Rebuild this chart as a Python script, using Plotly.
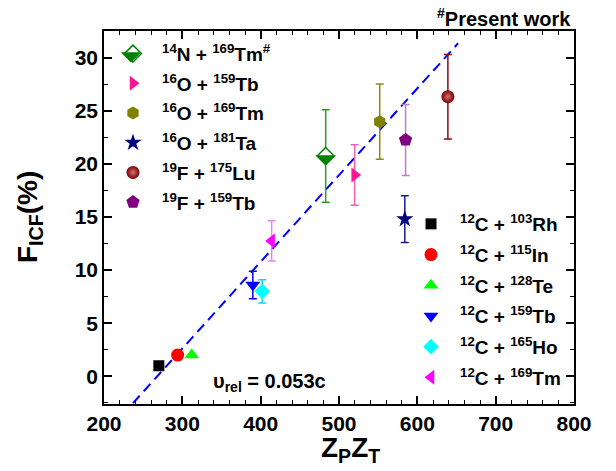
import plotly.graph_objects as go

# ---------------------------------------------------------------
# Incomplete-fusion fraction F_ICF (%) versus Coulomb factor Zp*Zt
# ---------------------------------------------------------------

# Heavier projectiles (left legend)
heavy_labels = [
    "<sup>14</sup>N + <sup>169</sup>Tm<sup>#</sup>",
    "<sup>16</sup>O + <sup>159</sup>Tb",
    "<sup>16</sup>O + <sup>169</sup>Tm",
    "<sup>16</sup>O + <sup>181</sup>Ta",
    "<sup>19</sup>F + <sup>175</sup>Lu",
    "<sup>19</sup>F + <sup>159</sup>Tb",
]
heavy_zpzt = [483, 520, 552, 584, 639, 585]
heavy_ficf = [20.74, 18.95, 23.97, 14.8, 26.32, 22.25]
heavy_err = [4.36, 2.85, 3.55, 2.2, 3.98, 3.34]

# 12C-induced reactions (right legend)
carbon_labels = [
    "<sup>12</sup>C + <sup>103</sup>Rh",
    "<sup>12</sup>C + <sup>115</sup>In",
    "<sup>12</sup>C + <sup>128</sup>Te",
    "<sup>12</sup>C + <sup>159</sup>Tb",
    "<sup>12</sup>C + <sup>165</sup>Ho",
    "<sup>12</sup>C + <sup>169</sup>Tm",
]
carbon_zpzt = [270, 294, 312, 390, 402, 414]
carbon_ficf = [1.0, 2.0, 2.0, 8.6, 8.0, 12.75]
carbon_err = [None, None, None, 1.3, 1.1, 1.9]

# Linear systematics drawn as dashed line
fit_slope = 0.0816
fit_intercept = -21.86
fit_x = [237, 652]

x_ticks = [200, 300, 400, 500, 600, 700, 800]
y_ticks = [0, 5, 10, 15, 20, 25, 30]

FONT = "Liberation Sans, Arial, sans-serif"

heavy_style = [
    dict(symbol="diamond", size=13, color="white", line="#008000", err="#2e9a2e"),
    dict(symbol="triangle-right", size=13, color="#ff1493", line="#ff1493", err="#f062b4"),
    dict(symbol="hexagon", size=13, color="#808000", line="#808000", err="#8a8a10"),
    dict(symbol="star", size=13, color="#000080", line="#000080", err="#1a1a8a"),
    dict(symbol="circle", size=13, color="#7a0000", line="#7a0000", err="#8a0a0a"),
    dict(symbol="pentagon", size=14, color="#800080", line="#800080", err="#c47ac4"),
]
carbon_style = [
    dict(symbol="square", size=11, color="#000000", err="#000000"),
    dict(symbol="circle", size=13, color="#ff0000", err="#ff0000"),
    dict(symbol="triangle-up", size=13, color="#00ff00", err="#00dd00"),
    dict(symbol="triangle-down", size=13, color="#0000ff", err="#0000ff"),
    dict(symbol="diamond", size=12, color="#00ffff", err="#22d0d0"),
    dict(symbol="triangle-left", size=13, color="#ff00ff", err="#ee82ee"),
]

fig = go.Figure()

# fitted systematics
fig.add_trace(go.Scatter(
    x=fit_x, y=[fit_slope * v + fit_intercept for v in fit_x],
    mode="lines", line=dict(color="#0000ff", width=2, dash="10px,6px"),
    showlegend=False, hoverinfo="skip",
))

for i, (lab, xv, yv, ev) in enumerate(zip(heavy_labels, heavy_zpzt, heavy_ficf, heavy_err)):
    st = heavy_style[i]
    marker = dict(symbol=st["symbol"], size=st["size"], color=st["color"],
                  line=dict(color=st["line"], width=1.5 if i == 0 else 0))
    if i == 4:
        marker["gradient"] = dict(type="radial", color="#d27070")
    fig.add_trace(go.Scatter(
        x=[xv], y=[yv], mode="markers", name=lab,
        marker=marker,
        error_y=dict(type="data", array=[ev], color=st["err"], thickness=1.5, width=4),
        legend="legend", legendgroup=f"h{i}",
        showlegend=(i != 0),
    ))
    if i == 0:
        # legend entry uses an open outline; the half fill is added as a shape
        fig.add_trace(go.Scatter(
            x=[None], y=[None], mode="markers", name=lab,
            marker=dict(symbol="diamond-open", size=13, color="#008000",
                        line=dict(color="#008000", width=1.5)),
            legend="legend", legendgroup=f"h{i}",
        ))

for i, (lab, xv, yv, ev) in enumerate(zip(carbon_labels, carbon_zpzt, carbon_ficf, carbon_err)):
    st = carbon_style[i]
    kw = {}
    if ev is not None:
        kw["error_y"] = dict(type="data", array=[ev], color=st["err"], thickness=1.5, width=4)
    fig.add_trace(go.Scatter(
        x=[xv], y=[yv], mode="markers", name=lab,
        marker=dict(symbol=st["symbol"], size=st["size"], color=st["color"], line=dict(width=0)),
        legend="legend2", legendgroup=f"c{i}", **kw,
    ))


def px(x):
    return (x - 104) / 470


def py(y):
    return (404 - y) / 373


# lower half of the 14N + 169Tm diamond is filled
half = 1.3 * 13 / 2
half_path = f"M{-half},0 L{half},0 L0,{-half} Z"
fig.add_shape(type="path", xref="x", yref="y", xsizemode="pixel", ysizemode="pixel",
              xanchor=heavy_zpzt[0], yanchor=heavy_ficf[0], path=half_path,
              fillcolor="#008000", line=dict(color="#008000", width=1.5), layer="above")

fig.add_shape(type="path", xref="paper", yref="paper", xsizemode="pixel", ysizemode="pixel",
              xanchor=px(131), yanchor=py(53), path=half_path,
              fillcolor="#008000", line=dict(color="#008000", width=1.5), layer="above")

axis_common = dict(
    showline=True, linecolor="black", linewidth=1.5, mirror="allticks",
    ticks="inside", ticklen=8, tickwidth=1.5, tickcolor="black",
    showgrid=False, zeroline=False,
    tickfont=dict(family=FONT, size=21, color="black", weight="bold"),
)

fig.update_xaxes(range=[200, 800], tickvals=x_ticks,
                 minor=dict(ticks="inside", ticklen=4, tickwidth=1, dtick=20, tick0=200, tickcolor="black"),
                 **axis_common)
fig.update_yaxes(range=[-2.6, 32.5], tickvals=y_ticks,
                 minor=dict(ticks="inside", ticklen=4, tickwidth=1, dtick=2.5, tick0=0, tickcolor="black"),
                 **axis_common)

title_font = dict(family=FONT, size=28, color="black", weight="bold")
fig.add_annotation(text="Z<sub>P</sub>Z<sub>T</sub>", x=px(350), y=py(449), xref="paper", yref="paper",
                   showarrow=False, font=title_font, xanchor="center", yanchor="middle")
fig.add_annotation(text="F<sub>ICF</sub>(%)", x=px(29), y=py(217), xref="paper", yref="paper",
                   showarrow=False, font=title_font, textangle=-90, xanchor="center", yanchor="middle")
fig.add_annotation(text="<sup>#</sup>Present work", x=px(573), y=py(18), xref="paper", yref="paper",
                   showarrow=False, font=dict(family=FONT, size=20, color="black", weight="bold"),
                   xanchor="right", yanchor="middle")
fig.add_annotation(text="υ<sub>rel</sub> = 0.053c", x=px(211), y=py(382), xref="paper", yref="paper",
                   showarrow=False, font=dict(family=FONT, size=20, color="black", weight="bold"),
                   xanchor="left", yanchor="middle")

leg_font = dict(family=FONT, size=19, color="black", weight="bold")
fig.update_layout(
    width=616, height=471,
    margin=dict(l=104, r=42, t=31, b=67),
    plot_bgcolor="white", paper_bgcolor="white",
    legend=dict(x=0.0, y=0.99, xanchor="left", yanchor="top", bgcolor="rgba(0,0,0,0)",
                font=leg_font, itemwidth=48, tracegroupgap=2, traceorder="grouped"),
    legend2=dict(x=px(402), y=py(205), xanchor="left", yanchor="top", bgcolor="rgba(0,0,0,0)",
                 font=leg_font, itemwidth=48, tracegroupgap=3, traceorder="grouped"),
)

fig.write_html("out.html")
